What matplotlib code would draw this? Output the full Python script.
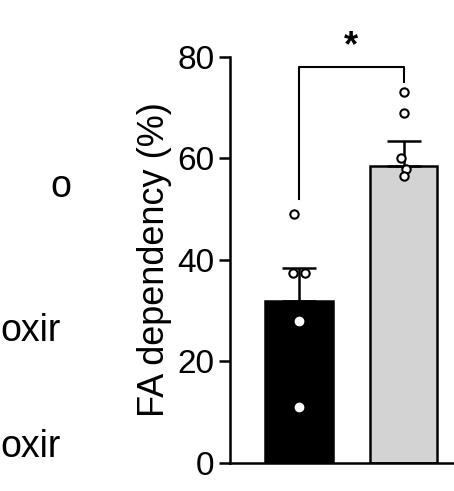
import matplotlib
matplotlib.use("Agg")
import matplotlib.pyplot as plt

plt.rcParams["font.family"] = ["Liberation Sans", "DejaVu Sans"]

groups = ["ctrl", "treated"]
means = [32.0, 58.5]
sems = [6.5, 5.0]
colors = ["black", "#d3d3d3"]
points_outside = [[49.0, 37.5, 37.5], [73.0, 69.0, 60.0, 58.0, 56.5]]
points_inside = [[28.0, 11.0], []]
yticks = [0, 20, 40, 60, 80]

fig = plt.figure(figsize=(4.54, 4.91), dpi=100)
ax = fig.add_axes([0.507, 0.057, 0.49, 0.827])
x = [0, 1]
ax.bar(x, means, width=0.65, color=colors, edgecolor="black", linewidth=1.8, zorder=2)
ax.errorbar(x, means, yerr=[[0, 0], sems], fmt="none", ecolor="black",
            elinewidth=1.8, capsize=12, capthick=1.8, zorder=3)
offs = [[-0.05, -0.06, 0.06], [0, 0, -0.02, 0.02, 0]]
for i in x:
    for j, v in enumerate(points_outside[i]):
        ax.plot(i + offs[i][j], v, "o", ms=6, mfc="white", mec="black", mew=1.5, zorder=4, clip_on=False)
    for v in points_inside[i]:
        ax.plot(i, v, "o", ms=6, mfc="white", mec="white", zorder=4)
ax.plot([0, 0, 1, 1], [52, 78, 78, 75], color="black", lw=1.5, clip_on=False)
ax.text(0.5, 78.5, "*", ha="center", va="bottom", fontsize=26, fontweight="bold", clip_on=False)
ax.set_xlim(-0.66, 1.47)
ax.set_ylim(0, 80)
ax.set_yticks(yticks)
ax.set_xticks([])
ax.tick_params(axis="y", labelsize=24, width=1.8, length=8)
ax.set_ylabel("FA dependency (%)", fontsize=26, labelpad=4)
for s in ["top", "right"]:
    ax.spines[s].set_visible(False)
for s in ["left", "bottom"]:
    ax.spines[s].set_linewidth(1.8)

fig.text(0.11, 0.62, "o", fontsize=27, ha="left", va="center")
fig.text(0.0, 0.325, "oxir", fontsize=27, ha="left", va="center")
fig.text(0.0, 0.09, "oxir", fontsize=27, ha="left", va="center")
fig.savefig("out.png", dpi=100)
